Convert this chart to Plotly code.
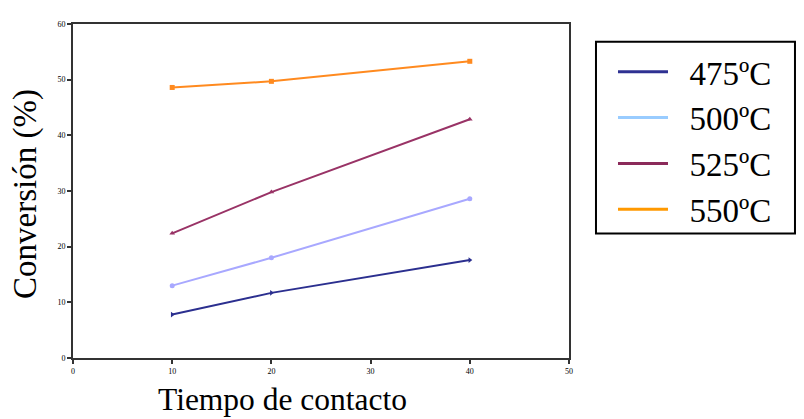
import plotly.graph_objects as go

tiempo = [10, 20, 40]
series_names = ["475ºC", "500ºC", "525ºC", "550ºC"]
conv_475 = [7.8, 11.7, 17.6]
conv_500 = [13.0, 18.0, 28.6]
conv_525 = [22.4, 29.8, 42.9]
conv_550 = [48.6, 49.7, 53.3]
x_ticks = [0, 10, 20, 30, 40, 50]
y_ticks = [0, 10, 20, 30, 40, 50, 60]

line_colors = ["#2b2f8f", "#a8a8ff", "#993366", "#ff8a1f"]
legend_colors = ["#2e3192", "#99ccff", "#8b2a5a", "#ff9900"]
symbols = ["triangle-right", "circle", "triangle-up", "square"]
values = [conv_475, conv_500, conv_525, conv_550]

fig = go.Figure()
for i, (name, vals) in enumerate(zip(series_names, values)):
    fig.add_trace(go.Scatter(
        x=tiempo, y=vals, name=name, mode="lines+markers",
        line=dict(color=line_colors[i], width=2),
        marker=dict(symbol=symbols[i], size=5, color=line_colors[i]),
        showlegend=False,
    ))
for i, name in enumerate(series_names):
    fig.add_trace(go.Scatter(
        x=[None], y=[None], name="\u00a0\u00a0" + name, mode="lines",
        line=dict(color=legend_colors[i], width=3),
        legendgroup=name, showlegend=True,
    ))

fig.update_layout(
    width=804, height=419,
    paper_bgcolor="white", plot_bgcolor="white",
    margin=dict(l=65, r=243, t=12, b=69),
    font=dict(family="Liberation Serif", color="black"),
    showlegend=True,
    legend=dict(
        x=1.0887, y=0.941, xanchor="left", yanchor="top",
        borderwidth=0, bgcolor="rgba(0,0,0,0)",
        font=dict(family="Liberation Serif", size=33, color="black"),
        traceorder="grouped", tracegroupgap=0,
        itemwidth=50,
    ),
    shapes=[
        dict(type="rect", xref="paper", yref="paper",
             x0=1.0544, x1=1.4556, y0=0.3728, y1=0.9467,
             line=dict(color="black", width=2), fillcolor="rgba(0,0,0,0)",
             layer="below"),
    ],
    xaxis=dict(
        range=[0, 50], tickvals=x_ticks, ticktext=[str(v) for v in x_ticks],
        showgrid=False, zeroline=False, showline=True, linecolor="#333",
        linewidth=2, mirror=True, ticks="outside", ticklen=4, tickwidth=1.5,
        tickcolor="#333", tickfont=dict(size=8, family="Liberation Serif", color="black"),
    ),
    yaxis=dict(
        range=[0, 60], tickvals=y_ticks, ticktext=[str(v) for v in y_ticks],
        showgrid=False, zeroline=False, showline=True, linecolor="#333",
        linewidth=2, mirror=True, ticks="outside", ticklen=4, tickwidth=1.5,
        tickcolor="#333", tickfont=dict(size=8, family="Liberation Serif", color="black"),
    ),
    annotations=[
        dict(text="Tiempo de contacto", xref="paper", yref="paper",
             x=0.423, y=-0.124, xanchor="center", yanchor="middle",
             showarrow=False, font=dict(size=31.5, family="Liberation Serif")),
        dict(text="Conversión (%)", xref="paper", yref="paper",
             x=-0.0968, y=0.491, xanchor="center", yanchor="middle",
             textangle=-90, showarrow=False,
             font=dict(size=33, family="Liberation Serif")),
    ],
)

fig.write_html("out.html")
